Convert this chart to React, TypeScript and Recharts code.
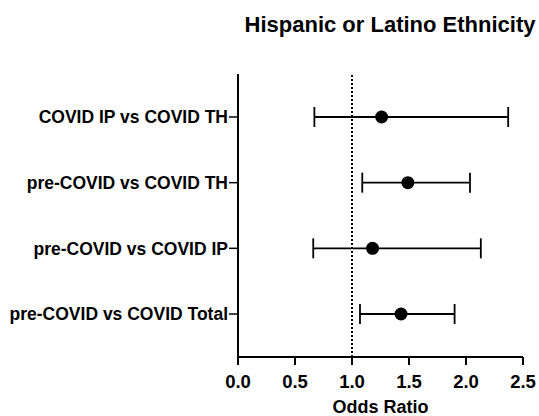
import React from "react";
import {
  ScatterChart,
  Scatter,
  XAxis,
  YAxis,
  ErrorBar,
  ReferenceLine,
} from "recharts";

// comparisons, top to bottom
const comparisons = [
  "COVID IP vs COVID TH",
  "pre-COVID vs COVID TH",
  "pre-COVID vs COVID IP",
  "pre-COVID vs COVID Total",
];
const oddsRatio = [1.26, 1.49, 1.18, 1.43];
const ciLow = [0.67, 1.09, 0.66, 1.07];
const ciHigh = [2.37, 2.035, 2.13, 1.9];
const xTicks = [0, 0.5, 1, 1.5, 2, 2.5];

const data = comparisons.map((name, i) => ({
  name,
  row: i + 1,
  or: oddsRatio[i],
  err: [oddsRatio[i] - ciLow[i], ciHigh[i] - oddsRatio[i]],
}));

const font = "'Liberation Sans', Arial, Helvetica, sans-serif";

const Dot = (props: any) => (
  <circle cx={props.cx} cy={props.cy} r={6.5} fill="#000" />
);

export default function App() {
  return (
    <div style={{ position: "absolute", left: 0, top: 0, width: 539, height: 416, background: "#fff", fontFamily: font, overflow: "hidden" }}>
      <div
        style={{
          position: "absolute",
          left: 240,
          top: 12,
          width: 300,
          textAlign: "center",
          fontSize: 22,
          fontWeight: "bold",
          color: "#000",
          whiteSpace: "nowrap",
        }}
      >
        Hispanic or Latino Ethnicity
      </div>
      <ScatterChart width={539} height={416} margin={{ top: 74, right: 16, bottom: 0, left: 0 }}>
        <XAxis
          type="number"
          dataKey="or"
          domain={[0, 2.5]}
          ticks={xTicks}
          tickFormatter={(v: number) => v.toFixed(1)}
          height={59}
          tickSize={8}
          tickMargin={10}
          axisLine={{ stroke: "#000", strokeWidth: 2 }}
          tickLine={{ stroke: "#000", strokeWidth: 2 }}
          tick={{ fill: "#000", fontSize: 18.5, fontWeight: "bold", fontFamily: font }}
          label={{
            value: "Odds Ratio",
            position: "insideBottom",
            offset: 3,
            fill: "#000",
            fontSize: 18,
            fontWeight: "bold",
            fontFamily: font,
          }}
        />
        <YAxis
          type="number"
          dataKey="row"
          domain={[0.345, 4.655]}
          ticks={[1, 2, 3, 4]}
          reversed
          width={238}
          tickSize={9}
          tickMargin={1}
          tickFormatter={(v: number) => comparisons[v - 1]}
          axisLine={{ stroke: "#000", strokeWidth: 2 }}
          tickLine={{ stroke: "#000", strokeWidth: 1.5 }}
          tick={{ fill: "#000", fontSize: 17.5, fontWeight: "bold", fontFamily: font }}
        />
        <ReferenceLine x={1} stroke="#000" strokeWidth={2} strokeDasharray="2 2" />
        <Scatter data={data} shape={Dot} isAnimationActive={false}>
          <ErrorBar
            dataKey="err"
            direction="x"
            width={10}
            stroke="#000"
            strokeWidth={1.8}
            isAnimationActive={false}
          />
        </Scatter>
      </ScatterChart>
    </div>
  );
}
